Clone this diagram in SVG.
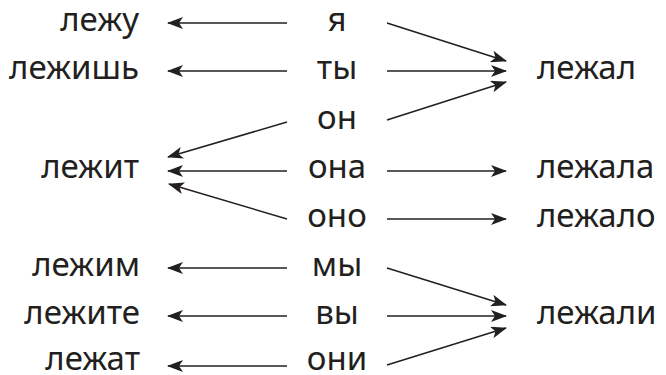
<svg xmlns="http://www.w3.org/2000/svg" width="666" height="375" viewBox="0 0 666 375">
<style>
text{font-family:"Noto Sans","Liberation Sans",sans-serif;font-size:33px;fill:#231f20}
.l{text-anchor:end}
.c{text-anchor:middle}
.r{text-anchor:start}
#connectors line{stroke:#231f20;stroke-width:1.5;marker-end:url(#ah)}
</style>
<defs>
<marker id="ah" markerUnits="userSpaceOnUse" markerWidth="16" markerHeight="12" viewBox="0 0 16 12" refX="15" refY="6" orient="auto">
<path d="M0,0 L16,6 L0,12 L4,6 Z" fill="#231f20"/>
</marker>
</defs>
<rect width="666" height="375" fill="#fff"/>
<g id="connectors">
<line x1="287" y1="23" x2="168" y2="23"/>
<line x1="287" y1="71" x2="168" y2="71"/>
<line x1="287" y1="122" x2="168" y2="157"/>
<line x1="287" y1="171" x2="168" y2="171"/>
<line x1="287" y1="219" x2="169" y2="184"/>
<line x1="287" y1="268" x2="168" y2="268"/>
<line x1="287" y1="316" x2="168" y2="316"/>
<line x1="287" y1="366" x2="168" y2="366"/>
<line x1="387" y1="23" x2="506" y2="61"/>
<line x1="387" y1="71" x2="506" y2="71"/>
<line x1="387" y1="120" x2="506" y2="82"/>
<line x1="387" y1="171" x2="506" y2="171"/>
<line x1="387" y1="219" x2="506" y2="219"/>
<line x1="387" y1="268" x2="506" y2="305"/>
<line x1="387" y1="316" x2="506" y2="316"/>
<line x1="387" y1="365" x2="506" y2="328"/>
</g>
<g id="lezhu"><text class="l" x="139" y="31">лежу</text></g>
<g id="lezhish"><text class="l" x="139" y="79">лежишь</text></g>
<g id="lezhit"><text class="l" x="139" y="178">лежит</text></g>
<g id="lezhim"><text class="l" x="140" y="276">лежим</text></g>
<g id="lezhite"><text class="l" x="140" y="324">лежите</text></g>
<g id="lezhat"><text class="l" x="140" y="370">лежат</text></g>
<g id="ya"><text class="c" x="337" y="31">я</text></g>
<g id="ty"><text class="c" x="337" y="79">ты</text></g>
<g id="on"><text class="c" x="337" y="129">он</text></g>
<g id="ona"><text class="c" x="337" y="178">она</text></g>
<g id="ono"><text class="c" x="337" y="227">оно</text></g>
<g id="my"><text class="c" x="337" y="276">мы</text></g>
<g id="vy"><text class="c" x="337" y="324">вы</text></g>
<g id="oni"><text class="c" x="337" y="370">они</text></g>
<g id="lezhal"><text class="r" x="537" y="79">лежал</text></g>
<g id="lezhala"><text class="r" x="537" y="178">лежала</text></g>
<g id="lezhalo"><text class="r" x="537" y="227">лежало</text></g>
<g id="lezhali"><text class="r" x="537" y="324">лежали</text></g>
</svg>
